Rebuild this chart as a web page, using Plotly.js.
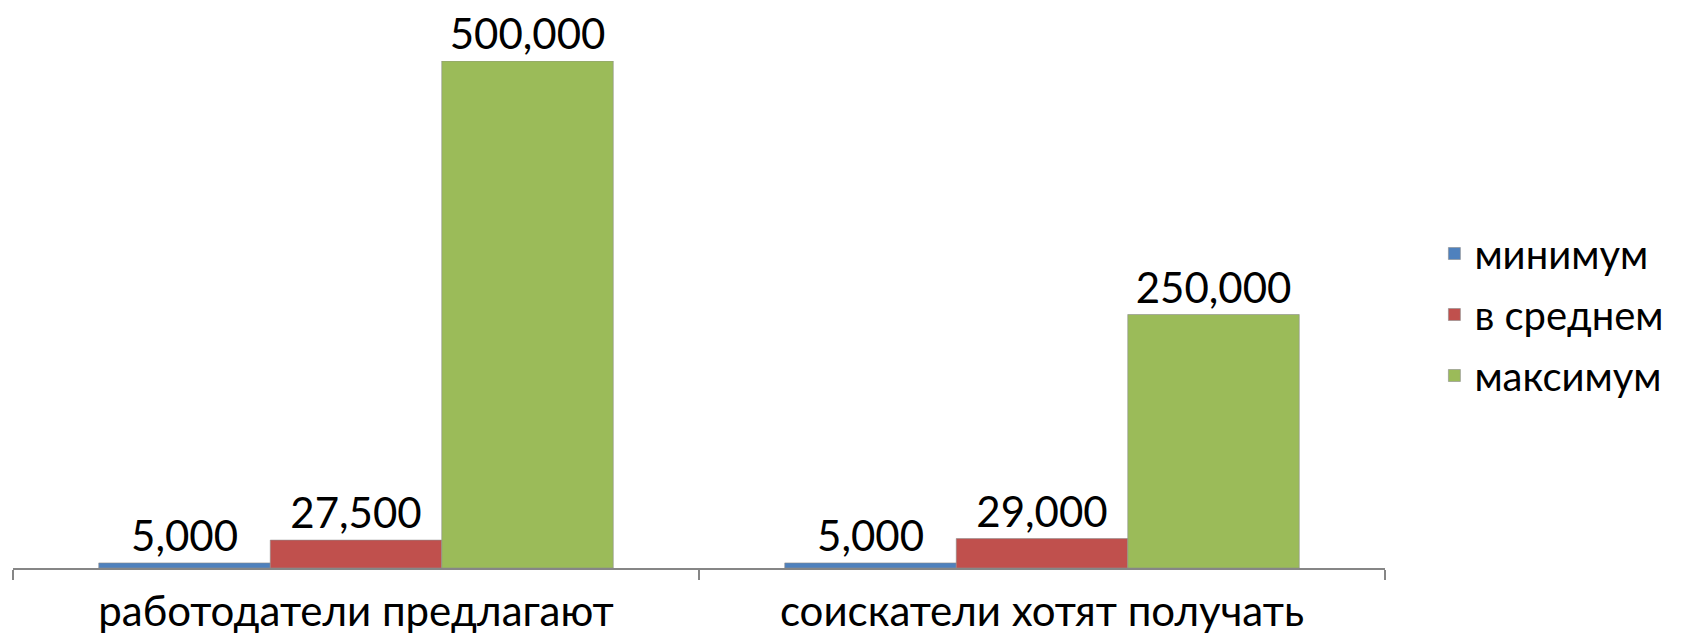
<!DOCTYPE html>
<html>
<head>
<meta charset="utf-8">
<script src="https://cdn.plot.ly/plotly-3.0.1.min.js"></script>
<style>html,body{margin:0;padding:0;background:#fff;}#chart{width:1688px;height:635px;}</style>
</head>
<body>
<div id="chart"></div>
<script>
const categories = ["работодатели предлагают", "соискатели хотят получать"];
const seriesNames = ["минимум", "в среднем", "максимум"];
const minimum = [5000, 5000];
const average = [27500, 29000];
const maximum = [500000, 250000];
const colors = ["#4F81BD", "#C0504D", "#9BBB59"];
const values = [minimum, average, maximum];
const FONT = "Lato, 'Open Sans', sans-serif";

const fmt = v => v.toLocaleString("en-US");

const traces = values.map((vals, i) => ({
  type: "bar",
  name: seriesNames[i],
  legendgroup: "g" + i,
  x: categories,
  y: vals,
  text: vals.map(fmt),
  textposition: "outside",
  cliponaxis: false,
  textfont: {family: FONT, size: 42, color: "#000"},
  marker: {color: colors[i], line: {color: "rgba(140,140,140,0.6)", width: 1}},
  hoverinfo: "none"
}));

const layout = {
  width: 1688,
  height: 635,
  margin: {l: 13, r: 303, t: 61, b: 67},
  paper_bgcolor: "#fff",
  plot_bgcolor: "#fff",
  barmode: "group",
  bargap: 0.25,
  bargroupgap: 0,
  showlegend: true,
  legend: {
    x: 1.036, y: 0.5, xanchor: "left", yanchor: "middle",
    font: {family: FONT, size: 40, color: "#000"},
    itemwidth: 30,
    traceorder: "grouped",
    tracegroupgap: 6
  },
  xaxis: {
    type: "category",
    showline: true,
    linecolor: "#868686",
    linewidth: 1.5,
    ticks: "outside",
    tickson: "boundaries",
    ticklen: 10,
    tickcolor: "#868686",
    tickwidth: 1.5,
    showgrid: false,
    tickfont: {family: FONT, size: 42, color: "#000"},
    ticklabelstandoff: 6
  },
  yaxis: {
    range: [0, 500000],
    visible: false,
    showgrid: false,
    zeroline: false
  }
};

Plotly.newPlot("chart", traces, layout, {staticPlot: true, displayModeBar: false});
</script>
</body>
</html>
